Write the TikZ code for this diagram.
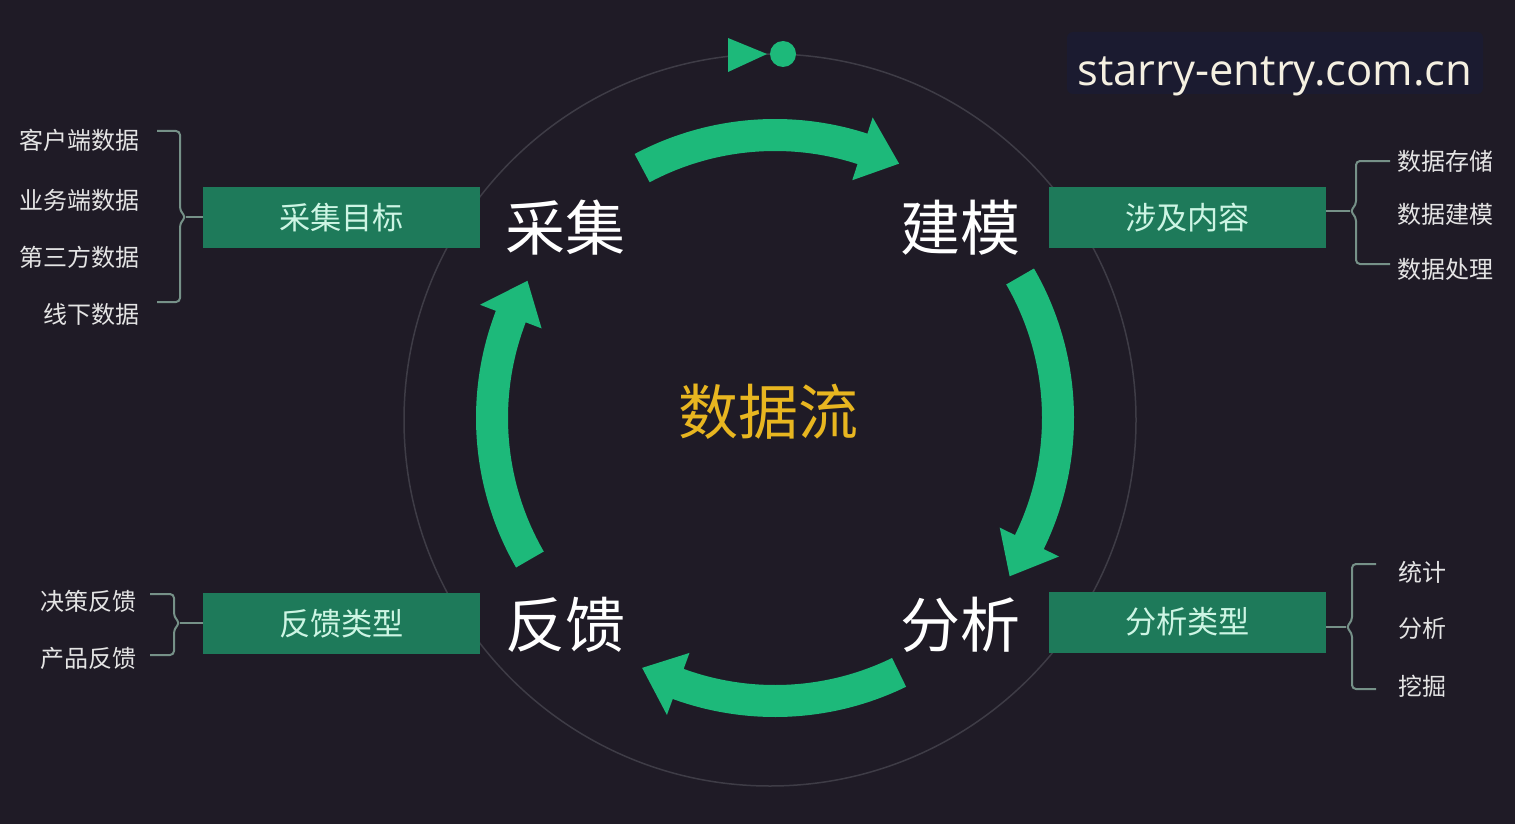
\documentclass[tikz,border=0pt]{standalone}
\usepackage{fontspec}
\newfontfamily\cjk{Noto Sans CJK SC}
\newfontfamily\webfont{Open Sans}
\definecolor{bgdark}{RGB}{31,27,38}
\definecolor{flowgreen}{RGB}{29,185,122}
\definecolor{boxgreen}{RGB}{30,122,90}
\definecolor{boxtext}{RGB}{205,245,228}
\definecolor{itemgray}{RGB}{228,228,228}
\definecolor{bracegray}{RGB}{118,145,136}
\definecolor{ringgray}{RGB}{62,60,70}
\definecolor{gold}{RGB}{232,182,32}
\definecolor{markbg}{RGB}{27,27,48}
\definecolor{markfg}{RGB}{245,240,225}
\begin{document}
\begin{tikzpicture}[x=0.5pt, y=-0.5pt,
    stage/.style={text=white, inner sep=0pt, font=\cjk\fontsize{30}{30}\selectfont},
    goal/.style={fill=boxgreen, text=boxtext, minimum width=138.5pt, minimum height=30.5pt, inner sep=0pt, font=\cjk\fontsize{15.6}{15.6}\selectfont},
    item/.style={text=itemgray, inner sep=0pt, font=\cjk\fontsize{12}{12}\selectfont},
    brace/.style={draw=bracegray, line width=1pt, rounded corners=2pt},
    flow/.style={fill=flowgreen}]
    \fill[bgdark] (0,0) rectangle (1515,824);

    % ring and the four flow arrows
    \draw[ringgray, line width=0.75pt] (770,420) circle[radius=366];
    \begin{scope}[shift={(775,418)}]
        \foreach \s/\e in {-118/-64, -30/34, 64/118, 150/209} {
            \pgfmathsetmacro{\h}{\e-8}
            \fill[flow] (\s:299) arc[start angle=\s, end angle=\h, radius=299] -- (\h:316) -- (\e:283) -- (\h:250) -- (\h:267) arc[start angle=\h, end angle=\s, radius=267] -- cycle;
        }
    \end{scope}
    \fill[flowgreen] (728,38) -- (767,54) -- (728,72) -- cycle;
    \fill[flowgreen] (783,54) circle[radius=13];

    % stages
    \node[stage] (collect) at (565,228) {采集};
    \node[stage] (model) at (960,228) {建模};
    \node[stage] (analyse) at (960,625) {分析};
    \node[stage] (feedback) at (565,625) {反馈};
    \node[text=gold, inner sep=0pt, font=\cjk\fontsize{30}{30}\selectfont] (dataflow) at (768,412) {数据流};

    % boxes
    \node[goal] (collectgoal) at (341.5,217.5) {采集目标};
    \node[goal] (modelgoal) at (1187.5,217.5) {涉及内容};
    \node[goal] (analysegoal) at (1187.5,622) {分析类型};
    \node[goal] (feedbackgoal) at (341.5,623.5) {反馈类型};

    % items
    \node[item, anchor=east] (c1) at (140,140) {客户端数据};
    \node[item, anchor=east] (c2) at (140,200) {业务端数据};
    \node[item, anchor=east] (c3) at (140,257) {第三方数据};
    \node[item, anchor=east] (c4) at (140,314) {线下数据};
    \node[item, anchor=west] (m1) at (1397,161) {数据存储};
    \node[item, anchor=west] (m2) at (1397,214) {数据建模};
    \node[item, anchor=west] (m3) at (1397,269) {数据处理};
    \node[item, anchor=west] (a1) at (1398,572) {统计};
    \node[item, anchor=west] (a2) at (1398,628) {分析};
    \node[item, anchor=west] (a3) at (1398,686) {挖掘};
    \node[item, anchor=east] (f1) at (137,601) {决策反馈};
    \node[item, anchor=east] (f2) at (137,658) {产品反馈};

    % braces
    \coordinate (ctip) at (186,217);
    \coordinate (mtip) at (1350,211);
    \coordinate (atip) at (1346,627);
    \coordinate (ftip) at (180,623);
    \draw[brace] (157,131) -- (180,131) -- (180,211) -- (ctip) -- (180,223) -- (180,302) -- (157,302);
    \draw[brace] (1390,161) -- (1356,161) -- (1356,205) -- (mtip) -- (1356,217) -- (1356,264) -- (1390,264);
    \draw[brace] (1376,564) -- (1352,564) -- (1352,621) -- (atip) -- (1352,633) -- (1352,689) -- (1376,689);
    \draw[brace] (150,594) -- (174,594) -- (174,617) -- (ftip) -- (174,629) -- (174,655) -- (150,655);
    \draw[brace] (ctip) -- (ctip -| collectgoal.west);
    \draw[brace] (mtip) -- (mtip -| modelgoal.east);
    \draw[brace] (atip) -- (atip -| analysegoal.east);
    \draw[brace] (ftip) -- (ftip -| feedbackgoal.west);

    % watermark
    \fill[markbg, rounded corners=3pt] (1067,32) rectangle (1483,94);
    \node[text=markfg, anchor=base, inner sep=0pt, font=\webfont\fontsize{21.8}{21.8}\selectfont] (mark) at (1275,86) {starry-entry.com.cn};
\end{tikzpicture}
\end{document}
